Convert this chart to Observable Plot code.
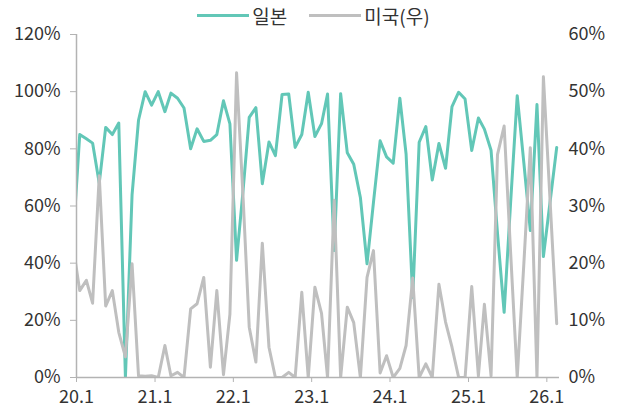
<!DOCTYPE html>
<html>
<head>
<meta charset="utf-8">
<script src="https://cdn.jsdelivr.net/npm/d3@7"></script>
<script src="https://cdn.jsdelivr.net/npm/@observablehq/plot@0.6"></script>
<style>
  html, body { margin: 0; padding: 0; background: #fff; }
  body { width: 627px; height: 412px; overflow: hidden; font-family: "Noto Sans CJK KR", "Noto Sans", sans-serif; color: #333; }
  #legend { height: 24px; padding-top: 6px; box-sizing: border-box; display: flex; justify-content: center; align-items: center; font-size: 19px; }
  #legend .sw { display: inline-block; width: 52px; height: 3px; margin-right: 3px; }
  #legend .item { display: flex; align-items: center; margin: 0 11px; }
</style>
</head>
<body>
<div id="legend"></div>
<div id="chart"></div>
<script>
// Series names
const seriesNames = ["일본", "미국(우)"];
const seriesColors = ["#62c7b7", "#bfbfbf"];

// Monthly data, first month 2019-12 (left edge is clipped by the axis start 20.1)
const startYear = 2019, startMonth = 11; // December 2019 (0-based month)

// 일본 (left axis, %)
const japan = [48, 85, 83.5, 82, 68, 87.5, 85, 89, 0, 64, 90, 100, 95.3,
  100, 93, 99.5, 97.7, 94.3, 80, 87, 82.6, 83, 85, 96.8, 88.7,
  41, 66, 91, 94.4, 67.8, 82.4, 77.6, 99, 99.2, 80.5, 85, 99.8,
  84.3, 88.8, 99.2, 44.4, 99.3, 78.6, 74.6, 63, 39.8, 61.3, 82.8, 77.2,
  75, 97.7, 78.2, 28, 82.3, 87.8, 69.1, 81.9, 73.2, 94.8, 99.8, 97.4,
  79.4, 90.8, 86.9, 79.5, 50.5, 22.8, 61, 98.6, 75, 51.4, 95.5, 42.3,
  61.4, 80.5];

// 미국 (right axis, %)
const us = [23, 15.2, 17, 13, 35.3, 12.5, 15.2, 7.9, 3.6, 19.9, 0.3, 0.2, 0.3,
  0, 5.6, 0.3, 0.9, 0, 12, 12.9, 17.5, 1.8, 15.2, 0.5, 11.1,
  53.3, 31, 8.8, 2.7, 23.5, 5.3, 0, 0, 0.9, 0, 14.9, 0,
  15.8, 11.2, 0, 31, 0, 12.3, 9.6, 0, 17.5, 22.2, 0.8, 3.8,
  0, 1.6, 5.6, 17.4, 0, 2.4, 0, 16.3, 9.7, 5.3, 0, 0,
  15.9, 0.3, 12.8, 0.3, 39, 44, 22, 0, 20, 40.2, 0, 52.6,
  31, 9.4];

// Axis ticks
const leftTicks = [0, 20, 40, 60, 80, 100, 120];
const rightTickLabels = ["0%", "10%", "20%", "30%", "40%", "50%", "60%"];
const xTickYears = [2020, 2021, 2022, 2023, 2024, 2025, 2026];
const xTickLabels = ["20.1", "21.1", "22.1", "23.1", "24.1", "25.1", "26.1"];

// Build table (points placed mid-month)
const dateOf = i => new Date(Date.UTC(startYear, startMonth + i, 16));
const rows = japan.map((v, i) => ({date: dateOf(i), japan: v, us: us[i]}));
const xTicks = xTickYears.map(y => new Date(Date.UTC(y, 0, 1)));

// legend
const legend = document.getElementById("legend");
seriesNames.forEach((n, i) => {
  const it = document.createElement("span");
  it.className = "item";
  const sw = document.createElement("span");
  sw.className = "sw";
  sw.style.background = seriesColors[i];
  const tx = document.createElement("span");
  tx.textContent = n;
  it.appendChild(sw); it.appendChild(tx);
  legend.appendChild(it);
});

const axisColor = "#b3b3b3";
const chart = Plot.plot({
  width: 627,
  height: 388,
  marginLeft: 76,
  marginRight: 68,
  marginTop: 10,
  marginBottom: 35,
  style: {fontFamily: '"Noto Sans CJK KR", "Noto Sans", sans-serif', fontSize: "18px", color: "#333", background: "#fff", overflow: "visible"},
  x: {type: "utc", domain: [new Date(Date.UTC(2020, 0, 1)), new Date(Date.UTC(2026, 2, 1))]},
  y: {domain: [0, 120]},
  marks: [
    Plot.lineY(rows, {x: "date", y: "japan", stroke: seriesColors[0], strokeWidth: 3, clip: true}),
    Plot.lineY(rows, {x: "date", y: d => d.us * 2, stroke: seriesColors[1], strokeWidth: 3, clip: true}),
    Plot.ruleX([new Date(Date.UTC(2020, 0, 1))], {stroke: axisColor, strokeWidth: 1.5}),
    Plot.ruleY([0], {stroke: axisColor, strokeWidth: 1.5}),
    Plot.axisY({ticks: leftTicks, tickFormat: d => d + "%", tickSize: 6, tickPadding: 10, stroke: axisColor, fill: "#333", label: null}),
    Plot.axisY({anchor: "right", ticks: leftTicks, tickFormat: d => rightTickLabels[leftTicks.indexOf(d)], tickSize: 0, tickPadding: 9, fill: "#333", label: null}),
    Plot.axisX({ticks: xTicks, tickFormat: d => xTickLabels[xTickYears.indexOf(d.getUTCFullYear())], tickSize: 5, tickPadding: 8, stroke: axisColor, fill: "#333", label: null})
  ]
});
document.getElementById("chart").appendChild(chart);
</script>
</body>
</html>
